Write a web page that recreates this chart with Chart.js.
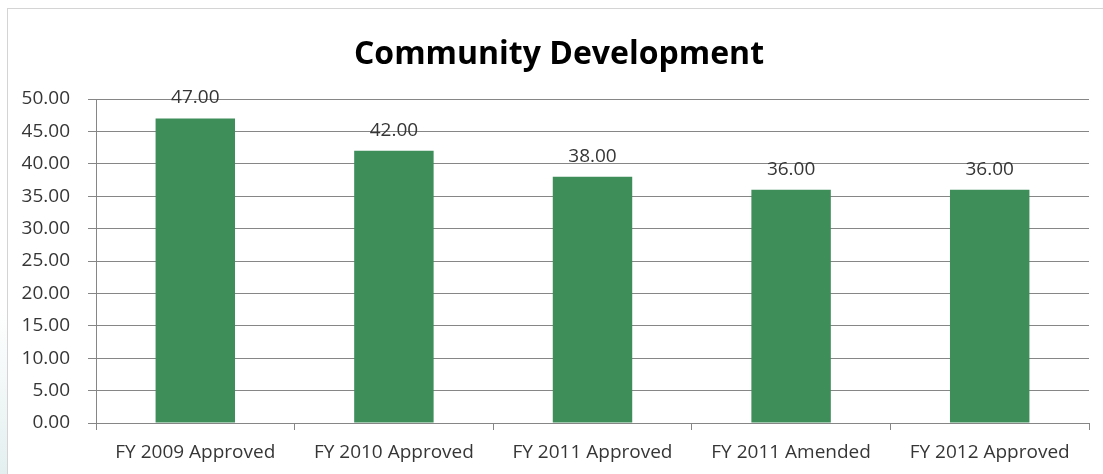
<!DOCTYPE html>
<html>
<head>
<meta charset="utf-8">
<script src="https://cdn.jsdelivr.net/npm/chart.js@4/dist/chart.umd.min.js"></script>
<style>
    html, body { margin: 0; padding: 0; background: #fff; }
    body { width: 1103px; height: 474px; position: relative; overflow: hidden; }
    .side { position: absolute; left: 0; top: 0; width: 7px; height: 474px;
        background: linear-gradient(to bottom, #fff 0%, #fff 65%, #e3efef 100%); }
    .frame { position: absolute; left: 7px; top: 8px; width: 1100px; height: 480px;
        border-top: 1px solid #d4d4d4; border-left: 1px solid #d4d4d4; }
    #chart-wrap { position: absolute; left: 0; top: 0; width: 1103px; height: 474px; }
</style>
</head>
<body>
<div class="side"></div>
<div class="frame"></div>
<div id="chart-wrap"><canvas id="graph-community"></canvas></div>
<script>
    const chartTitle = 'Community Development';
    const categories = ['FY 2009 Approved', 'FY 2010 Approved', 'FY 2011 Approved', 'FY 2011 Amended', 'FY 2012 Approved'];
    const positions = [47, 42, 38, 36, 36];
    const yTicks = [0, 5, 10, 15, 20, 25, 30, 35, 40, 45, 50];

    const fontFamily = '"Open Sans", "Noto Sans", sans-serif';
    const gridColor = '#868686';
    const textColor = '#363636';

    // title sits a little right of the plot centre, as in the Excel original
    const titleText = {
        id: 'titleText',
        afterDraw(chart) {
            const ctx = chart.ctx;
            ctx.save();
            ctx.font = 'bold 32px ' + fontFamily;
            ctx.fillStyle = '#000';
            ctx.textAlign = 'center';
            ctx.textBaseline = 'alphabetic';
            ctx.fillText(chartTitle, 559, 64);
            ctx.restore();
        }
    };

    // draws the value above each bar, like Excel data labels
    const valueLabels = {
        id: 'valueLabels',
        afterDatasetsDraw(chart) {
            const ctx = chart.ctx;
            const meta = chart.getDatasetMeta(0);
            ctx.save();
            ctx.font = '19px ' + fontFamily;
            ctx.fillStyle = textColor;
            ctx.textAlign = 'center';
            ctx.textBaseline = 'alphabetic';
            meta.data.forEach((bar, i) => {
                ctx.fillText(positions[i].toFixed(2), bar.x, bar.y - 15);
            });
            ctx.restore();
        }
    };

    const config = {
        type: 'bar',
        data: {
            labels: categories,
            datasets: [{
                data: positions,
                backgroundColor: '#3e8e5a',
                borderWidth: 0,
                categoryPercentage: 1,
                barPercentage: 0.4
            }]
        },
        options: {
            responsive: true,
            maintainAspectRatio: false,
            animation: false,
            layout: {
                padding: {left: 0, right: 14, top: 99, bottom: 0}
            },
            plugins: {
                legend: {display: false},
                tooltip: {enabled: false},
                title: {display: false}
            },
            scales: {
                x: {
                    grid: {
                        offset: true,
                        drawOnChartArea: false,
                        drawTicks: true,
                        tickLength: 7,
                        color: gridColor
                    },
                    border: {display: true, color: gridColor},
                    ticks: {
                        color: textColor,
                        font: {family: fontFamily, size: 19},
                        padding: 11,
                        maxRotation: 0
                    },
                    afterFit(scale) {
                        scale.height = 51;
                    }
                },
                y: {
                    min: 0,
                    max: 50,
                    afterBuildTicks(scale) {
                        scale.ticks = yTicks.map(v => ({value: v}));
                    },
                    grid: {
                        color: gridColor,
                        tickLength: 8
                    },
                    border: {display: true, color: gridColor},
                    ticks: {
                        color: textColor,
                        font: {family: fontFamily, size: 19},
                        padding: 18,
                        callback: value => Number(value).toFixed(2)
                    },
                    afterFit(scale) {
                        scale.width = 96;
                    }
                }
            }
        },
        plugins: [valueLabels, titleText]
    };

    new Chart(document.getElementById('graph-community'), config);
</script>
</body>
</html>
